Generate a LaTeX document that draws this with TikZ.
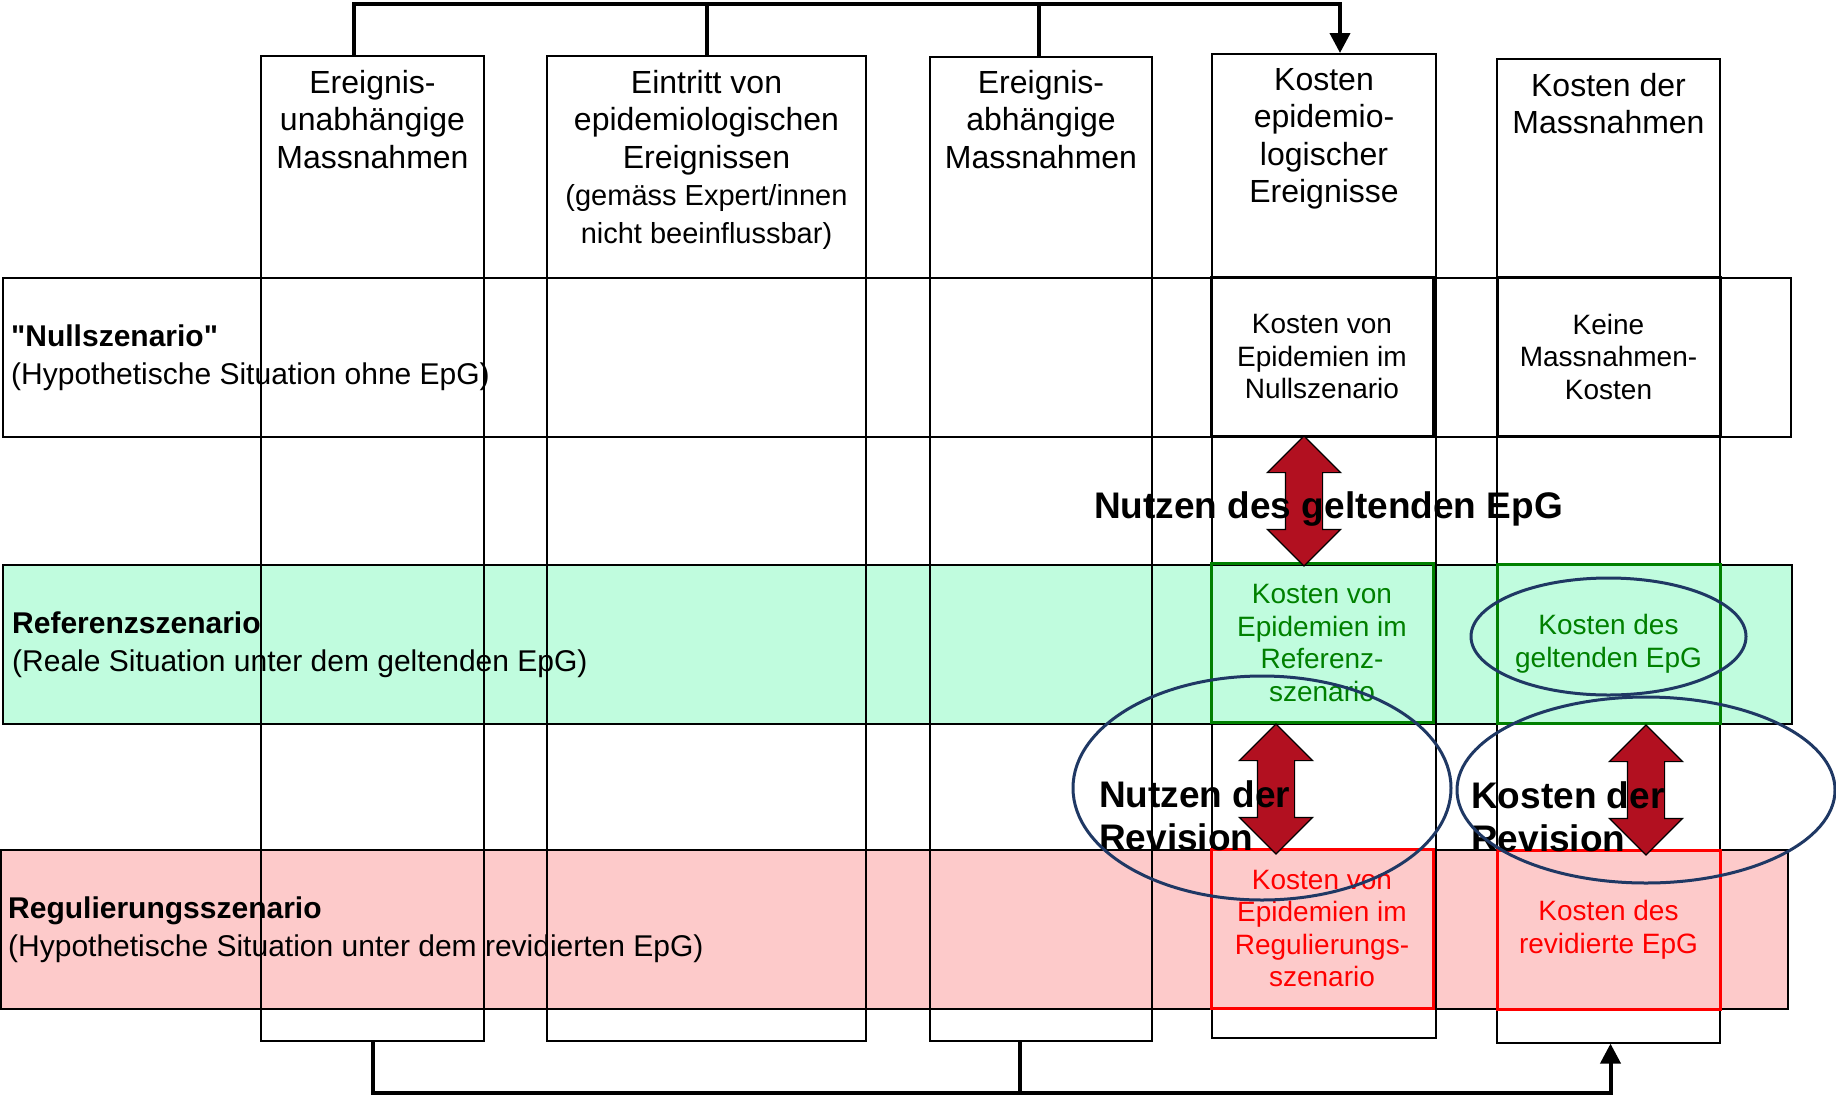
\documentclass[tikz,border=0pt]{standalone}
\usepackage{fontspec}
\newfontfamily\lsans{Liberation Sans}
\usepackage{tikz}
\usetikzlibrary{positioning,arrows.meta,shapes.arrows,shapes.geometric,calc}
\definecolor{refgreen}{RGB}{192,252,222}
\definecolor{regpink}{RGB}{253,202,202}
\definecolor{okgreen}{RGB}{0,128,0}
\definecolor{arrowred}{RGB}{178,16,32}
\definecolor{ringblue}{RGB}{31,56,100}
\newcommand{\fsize}[2]{\lsans\fontsize{#1}{#2}\selectfont}
\tikzset{
  >={Triangle[length=20pt,width=20pt]},
}

\begin{document}
\begin{tikzpicture}[
  x=1pt,y=-1pt,
  colbox/.style={draw,line width=1.6pt,anchor=north,inner sep=0pt},
  rowbox/.style={draw,line width=1.5pt,minimum height=159pt,anchor=north west,inner sep=0pt},
  cell/.style={draw,line width=3pt,minimum height=159pt,align=center,font=\fsize{28}{32.5},inner sep=0pt},
  head/.style={align=center,font=\fsize{32}{37.5},anchor=north,inner sep=0pt},
  rowlabel/.style={align=left,anchor=west,inner sep=0pt,font=\fsize{30}{38}},
  bigarrow/.style={double arrow,draw=black,line width=1.2pt,fill=arrowred,rotate=90,minimum height=130pt,
    inner xsep=0pt,inner ysep=18pt,double arrow head extend=18pt,double arrow tip angle=90},
  bigtext/.style={font=\bfseries\fsize{37}{43},align=left,anchor=west,inner sep=0pt},
  ring/.style={draw=ringblue,line width=3pt,ellipse,inner sep=0pt},
  conn/.style={line width=4pt},
]
\useasboundingbox (0,0) rectangle (1836,1095);

\node[rowbox,minimum width=1788pt] (nullrow) at (2,277) {};
\node[rowbox,fill=refgreen,minimum width=1789pt] (refrow) at (2,564) {};
\node[rowbox,fill=regpink,minimum width=1787pt] (regrow) at (0,849) {};

\node[rowlabel,right=9pt of nullrow.west] (nulltxt) {\textbf{"Nullszenario"}\\(Hypothetische Situation ohne EpG)};
\node[rowlabel,right=10pt of refrow.west] (reftxt) {\textbf{Referenzszenario}\\(Reale Situation unter dem geltenden EpG)};
\node[rowlabel,right=8pt of regrow.west] (regtxt) {\textbf{Regulierungsszenario}\\(Hypothetische Situation unter dem revidierten EpG)};

\node[colbox,minimum width=223pt,minimum height=985pt] (c1) at (372.5,55) {};
\node[colbox,minimum width=319pt,minimum height=985pt] (c2) at (706.5,55) {};
\node[colbox,minimum width=222pt,minimum height=984pt] (c3) at (1041,56) {};
\node[colbox,minimum width=224pt,minimum height=984pt] (c4) at (1324,53) {};
\node[colbox,minimum width=223pt,minimum height=984pt] (c5) at (1608.5,58) {};

\node[head,below=15pt of c1.north] (h1) {Ereignis-\\unabhängige\\Massnahmen};
\node[head,below=15pt of c2.north] (h2) {Eintritt von\\epidemiologischen\\Ereignissen\\{\fsize{29}{37.5}(gemäss Expert/innen}\\{\fsize{29}{37.5}nicht beeinflussbar)}};
\node[head,below=14pt of c3.north] (h3) {Ereignis-\\abhängige\\Massnahmen};
\node[head,below=15pt of c4.north] (h4) {Kosten\\epidemio-\\logischer\\Ereignisse};
\node[head,below=15pt of c5.north] (h5) {Kosten der\\Massnahmen};

\node[cell,minimum width=222pt] (k0) at (1322,356.5) {Kosten von\\Epidemien im\\Nullszenario};
\node[cell,minimum width=223pt] (m0) at (1608.5,356.5) {Keine\\Massnahmen-\\Kosten};
\node[cell,draw=okgreen,text=okgreen,minimum width=222pt] (k1) at (1322,643) {Kosten von\\Epidemien im\\Referenz-\\szenario};
\node[cell,draw=okgreen,text=okgreen,minimum width=223pt] (m1) at (1608.5,644) {Kosten des\\geltenden EpG};
\node[cell,draw=red,text=red,minimum width=222pt] (k2) at (1322,928.5) {Kosten von\\Epidemien im\\Regulierungs-\\szenario};
\node[cell,draw=red,text=red,minimum width=223pt] (m2) at (1608.5,929.5) {Kosten des\\revidierte EpG};

\coordinate (topbar) at (0,4);
\coordinate (botbar) at (0,1093);
\draw[conn,->] ([xshift=-19pt]c1.north) -- ([xshift=-19pt]c1.north |- topbar)
  -- ([xshift=16pt]c4.north |- topbar) -- ([xshift=16pt]c4.north);
\draw[conn] (c2.north) -- (c2.north |- topbar);
\draw[conn] ([xshift=-2pt]c3.north) -- ([xshift=-2pt]c3.north |- topbar);
\draw[conn,->] (c1.south) -- (c1.south |- botbar) -- ([xshift=2pt]c5.south |- botbar) -- ([xshift=2pt]c5.south);
\draw[conn] ([xshift=-21pt]c3.south) -- ([xshift=-21pt]c3.south |- botbar);

\node[bigarrow] (a1) at (1304,501) {};
\node[bigarrow] (a2) at (1276,789) {};
\node[bigarrow] (a3) at (1646,790) {};

\node[bigtext] (nutzen) at (1094,509) {Nutzen des geltenden EpG};
\node[bigtext] (nrev) at (1099,816) {Nutzen der\\Revision};
\node[bigtext] (krev) at (1471,817) {Kosten der\\Revision};

\node[ring,minimum width=378pt,minimum height=224pt] (e1) at (1262,788) {};
\node[ring,minimum width=275pt,minimum height=117pt] (e2) at (1608.5,636.5) {};
\node[ring,minimum width=378pt,minimum height=186pt] (e3) at (1646,790) {};

\end{tikzpicture}
\end{document}
